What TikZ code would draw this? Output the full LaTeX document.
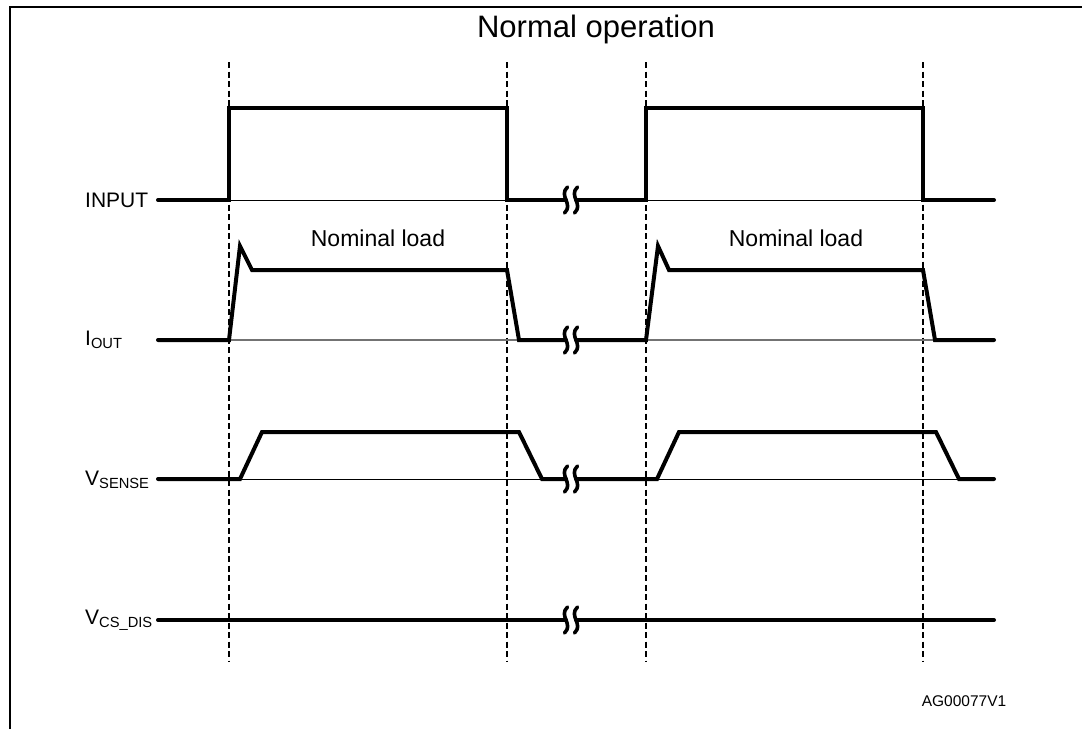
\documentclass[tikz,border=0pt]{standalone}
\usepackage{fontspec}
\setmainfont{Liberation Sans}
\begin{document}
\begin{tikzpicture}[x=1pt,y=-1pt,
  sig/.style={line width=4pt,line join=miter,line cap=round},
  thinb/.style={line width=1pt},
  thing/.style={line width=1.2pt,draw=black!55},
  dashv/.style={line width=1.3pt,dash pattern=on 6pt off 3.5pt},
  frame/.style={line width=2pt},
  lbl/.style={anchor=west,inner sep=0pt,font=\fontsize{21}{25}\selectfont},
  nom/.style={inner sep=0pt,font=\fontsize{23}{27}\selectfont},
  brk/.pic={\draw[line width=3.6pt,line cap=round] (1.5,-13) .. controls (-8,-4) and (8,4) .. (-1.5,13);}
]
\useasboundingbox (0,0) rectangle (1082,729);
% frame
\draw[frame] (10,729) -- (10,6.5) -- (1083,6.5);
% title
\node[inner sep=0pt,font=\fontsize{31}{35}\selectfont] (title) at (596,29) {Normal operation};
% dashed verticals
\foreach \x/\n in {229/d1,507/d2,646/d3,923/d4}{
  \coordinate (\n t) at (\x,62);
  \coordinate (\n b) at (\x,662);
  \draw[dashv] (\n t) -- (\n b);
}
% labels
\node[lbl] (lin) at (85,200) {INPUT};
\node[lbl] (lio) at (85,340) {I\textsubscript{OUT}};
\node[lbl] (lvs) at (85,480) {V\textsubscript{SENSE}};
\node[lbl] (lvc) at (85,620) {V\textsubscript{CS\_DIS}};
\node[nom] (n1) at (378,238) {Nominal load};
\node[nom] (n2) at (796,238) {Nominal load};
\node[inner sep=0pt,font=\fontsize{15.5}{18}\selectfont] (ag) at (964,701) {AG00077V1};
% thin baselines
\draw[thinb] (229,200) -- (507,200) (646,200) -- (923,200);
\draw[thing] (229,340) -- (519,340) (646,340) -- (935,340);
\draw[thinb] (229,479) -- (542,479) (646,479) -- (959,479);
% INPUT
\draw[sig] (158,200) -- (229,200) -- (229,107.5) -- (507,107.5) -- (507,200) -- (566,200);
\draw[sig] (576,200) -- (646,200) -- (646,107.5) -- (923,107.5) -- (923,200) -- (994,200);
\pic at (566,200) {brk}; \pic at (576,200) {brk};
% IOUT
\draw[sig] (158,340) -- (229,340) -- (240,246) -- (252,270) -- (507,270) -- (519,340) -- (566,340);
\draw[sig] (576,340) -- (646,340) -- (658,246) -- (669,270) -- (923,270) -- (935,340) -- (994,340);
\pic at (566,340) {brk}; \pic at (576,340) {brk};
% VSENSE
\draw[sig] (158,479) -- (240,479) -- (262,432) -- (519,432) -- (542,479) -- (566,479);
\draw[sig] (576,479) -- (657,479) -- (679,432) -- (936,432) -- (959,479) -- (994,479);
\pic at (566,479) {brk}; \pic at (576,479) {brk};
% VCS_DIS
\draw[sig] (158,620) -- (566,620);
\draw[sig] (576,620) -- (994,620);
\pic at (566,620) {brk}; \pic at (576,620) {brk};
\end{tikzpicture}
\end{document}
